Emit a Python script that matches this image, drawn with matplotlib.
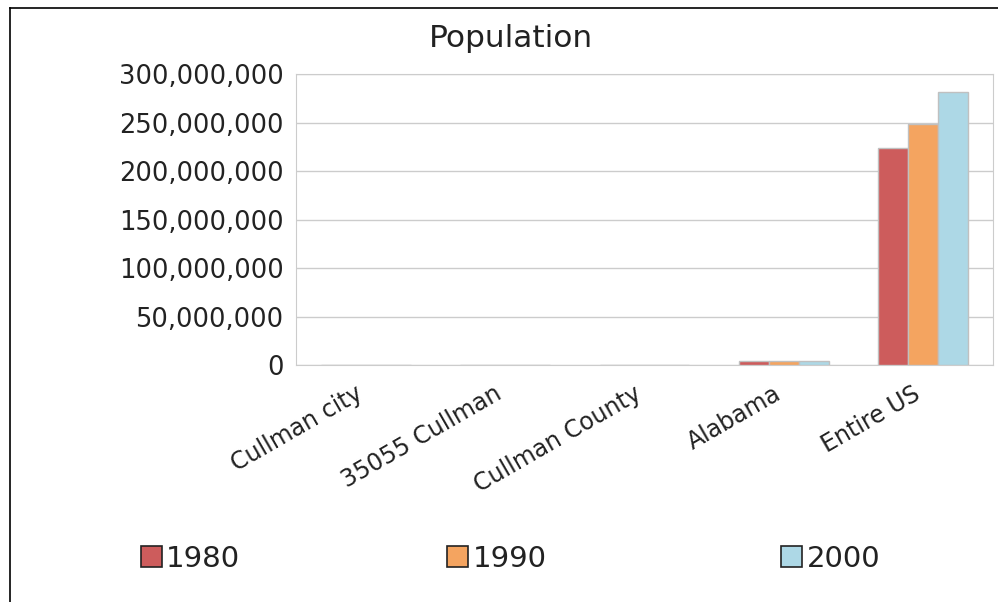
import numpy as np
import matplotlib.pyplot as plt
import matplotlib.transforms as mtransforms
from matplotlib.lines import Line2D
from matplotlib.ticker import FuncFormatter

categorias = ['Cullman city', '35055 Cullman', 'Cullman County', 'Alabama', 'Entire US']
anios = ['1980', '1990', '2000']
pob_1980 = [13084, 30000, 67613, 3893888, 224000000]
pob_1990 = [13367, 32000, 67613, 4040587, 248000000]
pob_2000 = [13995, 34000, 77483, 4447100, 281000000]
colores = ['#cd5c5c', '#f4a460', '#add8e6']

fig = plt.figure(figsize=(9.98, 6.02), dpi=100)
ax = fig.add_axes([0.2966, 0.3937, 0.6984, 0.4833])

x = np.arange(len(categorias))
ancho = 0.215
for i, (serie, color) in enumerate(zip([pob_1980, pob_1990, pob_2000], colores)):
    ax.bar(x + (i - 1) * ancho, serie, ancho, color=color, edgecolor='#c0c0c0',
           linewidth=1, label=anios[i], zorder=3)

ax.set_xlim(-0.5, len(categorias) - 0.5)
ax.set_ylim(0, 300000000)
ax.set_yticks(np.arange(0, 300000001, 50000000))
ax.yaxis.set_major_formatter(FuncFormatter(lambda v, p: f'{int(v):,}'))
ax.set_xticks(x)
ax.set_xticklabels(categorias, rotation=30, ha='right', rotation_mode='anchor')
ax.tick_params(axis='y', length=0, labelsize=18.5, colors='#222222', pad=9)
ax.tick_params(axis='x', length=0, labelsize=17, colors='#222222', pad=12)
desplaza = mtransforms.ScaledTranslation(-0.11, 0, fig.dpi_scale_trans)
for lbl in ax.get_xticklabels():
    lbl.set_transform(lbl.get_transform() + desplaza)
ax.grid(axis='y', color='#cccccc', linewidth=1, zorder=0)
for s in ax.spines.values():
    s.set_color('#cccccc')

fig.text(0.512, 0.936, 'Population', ha='center', va='center', fontsize=22.5, color='#222222')

# leyenda: tres entradas separadas como en el original
pos_leyenda = [0.141, 0.448, 0.783]
for anio, color, px in zip(anios, colores, pos_leyenda):
    h = plt.Rectangle((0, 0), 1, 1, facecolor=color, edgecolor='#222222', linewidth=1.2)
    fig.legend([h], [anio], loc='center left', bbox_to_anchor=(px, 0.072),
               frameon=False, fontsize=21, handlelength=0.72, handleheight=0.72,
               handletextpad=0.15, borderaxespad=0, borderpad=0, labelcolor='#222222')

# marco del recuadro
fig.add_artist(Line2D([0.0105, 0.0105], [0, 0.987], color='black', linewidth=1.2))
fig.add_artist(Line2D([0.0105, 1.0], [0.987, 0.987], color='black', linewidth=1.2))

fig.savefig('out.png', dpi=100)
